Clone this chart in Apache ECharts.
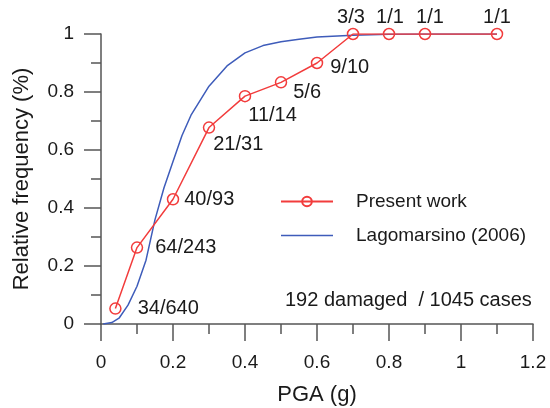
<!DOCTYPE html>
<html>
<head>
<meta charset="utf-8">
<script src="https://cdn.jsdelivr.net/npm/echarts@6/dist/echarts.min.js"></script>
<style>
  html, body { margin: 0; padding: 0; background: #fff; }
  #chart { width: 550px; height: 408px; }
</style>
</head>
<body>
<div id="chart"></div>
<script>
// observed damage ratio per PGA bin
const pgaBins = [0.04, 0.1, 0.2, 0.3, 0.4, 0.5, 0.6, 0.7, 0.8, 0.9, 1.1];
const damagedCount = [34, 64, 40, 21, 11, 5, 9, 3, 1, 1, 1];
const caseCount = [640, 243, 93, 31, 14, 6, 10, 3, 1, 1, 1];

// Lagomarsino (2006) curve
const lagoPga = [0.006, 0.03, 0.05, 0.075, 0.1, 0.125, 0.15, 0.175, 0.2, 0.225, 0.25, 0.3, 0.35, 0.4, 0.45, 0.5, 0.55, 0.6, 0.7, 0.8, 0.9, 1.0, 1.1];
const lagoFreq = [0, 0.005, 0.02, 0.065, 0.13, 0.22, 0.36, 0.47, 0.56, 0.65, 0.72, 0.82, 0.89, 0.935, 0.96, 0.973, 0.982, 0.99, 0.996, 0.999, 1, 1, 1];

const FONT = 'Liberation Sans, Arial, sans-serif';
const RED = '#f23c3c';
const BLUE = '#3e5cba';

// where each fraction label sits relative to its marker
const labelPlace = [
  { position: 'right', offset: [11, 0] },
  { position: 'right', offset: [7, 0] },
  { position: 'right', offset: [0, 0] },
  { position: 'right', offset: [-7, 17] },
  { position: 'right', offset: [-8, 19] },
  { position: 'right', offset: [1, 10] },
  { position: 'right', offset: [2, 4] },
  { position: 'top', offset: [-2, 0] },
  { position: 'top', offset: [1, 0] },
  { position: 'top', offset: [5, 0] },
  { position: 'top', offset: [0, 0] }
];

let presentData = pgaBins.map(function(x, i) {
  return {
    value: [x, damagedCount[i] / caseCount[i]],
    label: {
      show: true,
      formatter: damagedCount[i] + '/' + caseCount[i],
      position: labelPlace[i].position,
      offset: labelPlace[i].offset,
      distance: labelPlace[i].position === 'top' ? 0 : 5
    }
  };
});

let lagoData = lagoPga.map(function(x, i) {
  return [x, lagoFreq[i]];
});

let axisCommon = {
  type: 'value',
  nameLocation: 'middle',
  nameTextStyle: { fontFamily: FONT, fontSize: 22, color: '#1a1a1a' },
  axisLine: { show: true, lineStyle: { color: '#555', width: 1.5 } },
  axisTick: { show: true, inside: false, length: 17, lineStyle: { color: '#555', width: 1.5 } },
  minorTick: { show: true, splitNumber: 2, length: 10, lineStyle: { color: '#555', width: 1.5 } },
  splitLine: { show: false },
  axisLabel: { fontFamily: FONT, fontSize: 19, color: '#1a1a1a' }
};

let option = {
  animation: false,
  backgroundColor: '#fff',
  textStyle: { fontFamily: FONT },
  grid: { left: 101, right: 17, top: 34, bottom: 84, containLabel: false, outerBoundsMode: 'none' },
  xAxis: Object.assign({}, axisCommon, {
    min: 0,
    max: 1.2,
    interval: 0.2,
    name: 'PGA (g)',
    nameGap: 60,
    axisLabel: Object.assign({}, axisCommon.axisLabel, { margin: 29 })
  }),
  yAxis: Object.assign({}, axisCommon, {
    min: 0,
    max: 1,
    interval: 0.2,
    name: 'Relative frequency (%)',
    nameGap: 68,
    axisLabel: Object.assign({}, axisCommon.axisLabel, { margin: 27 })
  }),
  legend: {
    orient: 'vertical',
    left: 280,
    top: 191,
    padding: 0,
    itemWidth: 52,
    itemHeight: 12,
    itemGap: 13,
    textStyle: { fontFamily: FONT, fontSize: 19, color: '#1a1a1a', lineHeight: 21, padding: [0, 0, 0, 18] },
    data: [
      'Present work',
      { name: 'Lagomarsino (2006)', icon: 'path://M0,0L52,0L52,1.5L0,1.5Z', itemStyle: { color: BLUE } }
    ]
  },
  graphic: [
    {
      type: 'text',
      left: 285,
      top: 290,
      style: {
        text: '192 damaged  / 1045 cases',
        font: '20px ' + FONT,
        fill: '#1a1a1a'
      }
    }
  ],
  series: [
    {
      name: 'Lagomarsino (2006)',
      type: 'line',
      data: lagoData,
      showSymbol: false,
      symbol: 'none',
      lineStyle: { color: BLUE, width: 1.5 },
      itemStyle: { color: BLUE },
      z: 2
    },
    {
      name: 'Present work',
      type: 'line',
      data: presentData,
      symbol: 'circle',
      symbolSize: 11,
      lineStyle: { color: RED, width: 1.5 },
      itemStyle: { color: 'rgba(255,255,255,0)', borderColor: RED, borderWidth: 1.5 },
      label: { fontFamily: FONT, fontSize: 20, color: '#1a1a1a' },
      z: 3
    }
  ]
};

let myChart = echarts.init(document.getElementById('chart'));
myChart.setOption(option);
</script>
</body>
</html>
